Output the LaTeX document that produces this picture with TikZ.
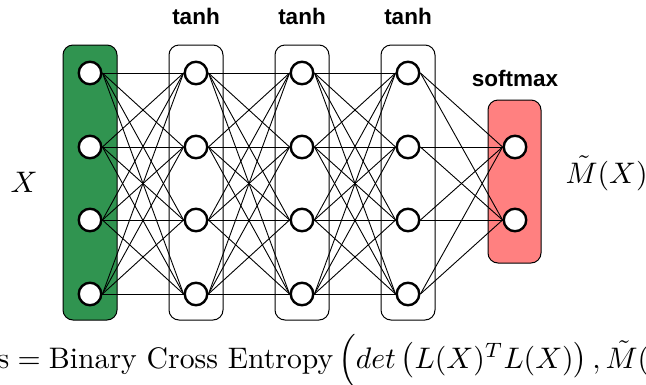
\documentclass[tikz,border=0pt]{standalone}
\usepackage{fontspec}
\usepackage{amsmath}
\newfontfamily\labelfont{Liberation Sans}
\definecolor{inputgreen}{RGB}{48,148,80}
\definecolor{outpink}{RGB}{255,128,128}
\pgfdeclarelayer{boxes}
\pgfdeclarelayer{wires}
\pgfsetlayers{boxes,wires,main}

\begin{document}
\begin{tikzpicture}[x=1pt,y=-1pt,
  layerbox/.style={draw=black, line width=1pt, rounded corners=10pt},
  neuron/.style={circle, draw=black, fill=white, line width=2.4pt,
                 minimum size=22.5pt, inner sep=0pt},
  link/.style={line width=0.9pt},
  actlabel/.style={font=\labelfont\bfseries\fontsize{22.5}{26}\selectfont,
                   anchor=base, inner sep=0pt},
  mathlabel/.style={font=\normalsize, anchor=base west,
                    inner sep=0pt, scale=2.97, transform shape}]
\useasboundingbox (0,0) rectangle (646,384);

% layer boxes
\begin{pgfonlayer}{boxes}
  \draw[layerbox, fill=inputgreen] (63,45) rectangle (117,320);
  \draw[layerbox, fill=white] (169,45) rectangle (223,320);
  \draw[layerbox, fill=white] (275,45) rectangle (329,320);
  \draw[layerbox, fill=white] (381,45) rectangle (435,320);
  \draw[layerbox, fill=outpink] (488,100) rectangle (541,263);
\end{pgfonlayer}

% neurons
\foreach \i/\y in {1/73,2/147,3/220,4/294} {
  \node[neuron] (a\i) at (90,\y) {};
  \node[neuron] (b\i) at (196,\y) {};
  \node[neuron] (c\i) at (302,\y) {};
  \node[neuron] (d\i) at (408,\y) {};
}
\node[neuron] (e1) at (515,147) {};
\node[neuron] (e2) at (515,220) {};

% fully connected wiring
\begin{pgfonlayer}{wires}
  \foreach \s in {1,...,4} {
    \foreach \t in {1,...,4} {
      \draw[link] (a\s.east) -- (b\t.west);
      \draw[link] (b\s.east) -- (c\t.west);
      \draw[link] (c\s.east) -- (d\t.west);
    }
    \foreach \t in {1,2} {
      \draw[link] (d\s.east) -- (e\t.west);
    }
  }
\end{pgfonlayer}

% activation labels
\node[actlabel] (act2) at (196,24) {tanh};
\node[actlabel] (act3) at (302,24) {tanh};
\node[actlabel] (act4) at (408,24) {tanh};
\node[actlabel] (act5) at (515,86) {softmax};

% input and output
\node[mathlabel] (xin) at (10,192) {$X$};
\node[mathlabel] (mout) at (565,183) {$\tilde{M}(X)$};

% loss
\node[mathlabel] (loss) at (-3,368)
  {s${}={}$Binary Cross Entropy$\,\Bigl(det\,\bigl(L(X)^TL(X)\bigr)\,,\tilde{M}($};
\end{tikzpicture}
\end{document}
